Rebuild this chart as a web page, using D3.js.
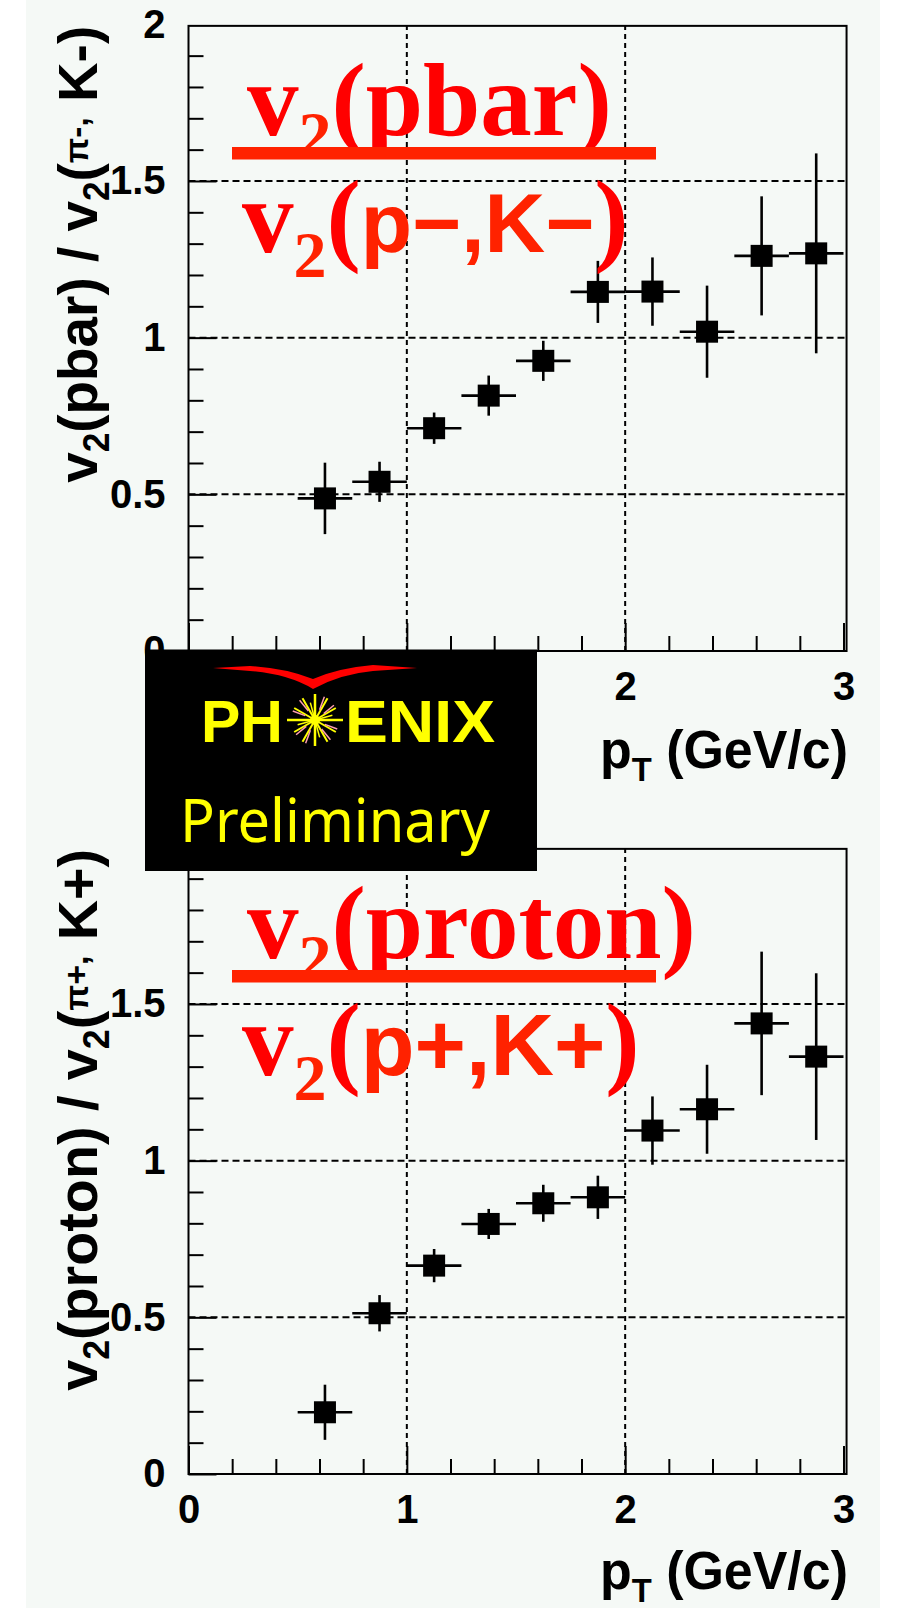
<!DOCTYPE html>
<html>
<head>
<meta charset="utf-8">
<script src="https://cdn.jsdelivr.net/npm/d3@7/dist/d3.min.js"></script>
<style>
  html, body { margin: 0; padding: 0; background: #fff; }
  svg { display: block; }
</style>
</head>
<body>
<svg id="fig" width="901" height="1608"></svg>
<script>
// pT bin centres and half-widths (GeV/c)
const ptCenters    = [0.625, 0.875, 1.125, 1.375, 1.625, 1.875, 2.125, 2.375, 2.625, 2.875];
const ptHalfWidths = [0.125, 0.125, 0.125, 0.125, 0.125, 0.125, 0.125, 0.125, 0.125, 0.125];

// v2(pbar) / v2(pi-,K-)
const ratioPbar    = [0.487, 0.540, 0.711, 0.815, 0.926, 1.146, 1.147, 1.019, 1.261, 1.269];
const ratioPbarErr = [0.114, 0.064, 0.050, 0.064, 0.064, 0.099, 0.109, 0.147, 0.190, 0.319];

// v2(proton) / v2(pi+,K+)
const ratioProton    = [0.197, 0.513, 0.665, 0.798, 0.864, 0.883, 1.096, 1.164, 1.438, 1.332];
const ratioProtonErr = [0.088, 0.058, 0.053, 0.048, 0.059, 0.069, 0.109, 0.142, 0.229, 0.266];

// axis ticks
const xMajorTicks = [0, 1, 2, 3];
const xTickLabels = ["0", "1", "2", "3"];
const xMinorTicks = [0.2, 0.4, 0.6, 0.8, 1.2, 1.4, 1.6, 1.8, 2.2, 2.4, 2.6, 2.8];
const yMajorTicks = [0, 0.5, 1, 1.5, 2];
const yTickLabels = ["0", "0.5", "1", "1.5", "2"];
const yMinorTicks = [0.1, 0.2, 0.3, 0.4, 0.6, 0.7, 0.8, 0.9, 1.1, 1.2, 1.3, 1.4, 1.6, 1.7, 1.8, 1.9];
const xGridValues = [1, 2];
const yGridValues = [0.5, 1, 1.5];

const SANS = "'Liberation Sans', Arial, Helvetica, sans-serif";
const SERIF = "'Liberation Serif', 'Times New Roman', Times, serif";

const svg = d3.select("#fig");
svg.append("rect").attr("width", 901).attr("height", 1608).attr("fill", "#ffffff");
svg.append("rect").attr("x", 26).attr("y", 0).attr("width", 854).attr("height", 1608).attr("fill", "#f5f9f6");

const x = d3.scaleLinear().domain([0, 3]).range([188.5, 843.5]);
const xFrameMax = 3.014, yFrameMax = 1.995;

// the badge sits between the two panels and hides a few tick labels
const badge = { x: 145, y: 649.5, w: 392, h: 221.5 };

const panels = [
  {
    top: 24.3, bottom: 651, values: ratioPbar, errors: ratioPbarErr,
    yTitle: [["v", 56, 0], ["2", 36, 12], ["(pbar) / v", 56, -12], ["2", 36, 12], ["(", 56, -12], ["\u03c0-,", 34, -9], [" K-)", 56, 9]],
    yTitleLen: 457, xTitleBase: 768,
    num: "(pbar)", den: "p\u2212,K\u2212", denSize: 84,
    hiddenX: [0, 1], hiddenY: []
  },
  {
    top: 847.3, bottom: 1474, values: ratioProton, errors: ratioProtonErr,
    yTitle: [["v", 56, 0], ["2", 36, 12], ["(proton) / v", 56, -12], ["2", 36, 12], ["(", 56, -12], ["\u03c0+,", 34, -9], [" K+)", 56, 9]],
    yTitleLen: 542, xTitleBase: 1589,
    num: "(proton)", den: "p+,K+", denSize: 88,
    hiddenX: [], hiddenY: [2]
  }
];

function styleAxisText(sel) {
  sel.attr("font-family", null).attr("font-size", null);
  sel.selectAll("text")
    .attr("font-family", SANS).attr("font-size", 40).attr("font-weight", "bold").attr("fill", "#000");
  sel.selectAll(".tick line").attr("stroke", "#000").attr("stroke-width", 2);
  sel.select(".domain").remove();
}

panels.forEach(p => {
  const y = d3.scaleLinear().domain([0, 2]).range([p.bottom, p.top]);
  const g = svg.append("g");

  // dashed grid
  g.selectAll("line.hgrid").data(yGridValues).join("line").attr("class", "hgrid")
    .attr("x1", x(0)).attr("x2", x(xFrameMax)).attr("y1", d => y(d)).attr("y2", d => y(d))
    .attr("stroke", "#000").attr("stroke-width", 2).attr("stroke-dasharray", "7,4");
  g.selectAll("line.vgrid").data(xGridValues).join("line").attr("class", "vgrid")
    .attr("x1", d => x(d)).attr("x2", d => x(d)).attr("y1", y(0)).attr("y2", y(yFrameMax))
    .attr("stroke", "#000").attr("stroke-width", 2).attr("stroke-dasharray", "5,4");

  // frame
  g.append("rect")
    .attr("x", x(0)).attr("y", y(yFrameMax))
    .attr("width", x(xFrameMax) - x(0)).attr("height", y(0) - y(yFrameMax))
    .attr("fill", "none").attr("stroke", "#000").attr("stroke-width", 2);

  // y axis: major ticks with labels, then minor ticks
  g.append("g").attr("transform", `translate(${x(0)},0)`)
    .call(d3.axisLeft(y).tickValues(yMajorTicks).tickFormat((d, i) => yTickLabels[i])
      .tickSize(-28).tickSizeOuter(0).tickPadding(23))
    .call(styleAxisText)
    .call(a => a.selectAll(".tick line").filter(d => d > yFrameMax).remove())
    .call(a => a.selectAll(".tick text").filter(d => p.hiddenY.includes(d)).remove());
  g.append("g").attr("transform", `translate(${x(0)},0)`)
    .call(d3.axisLeft(y).tickValues(yMinorTicks).tickFormat("").tickSize(-15).tickSizeOuter(0))
    .call(styleAxisText);

  // x axis
  g.append("g").attr("transform", `translate(0,${y(0)})`)
    .call(d3.axisBottom(x).tickValues(xMajorTicks).tickFormat((d, i) => xTickLabels[i])
      .tickSize(-28).tickSizeOuter(0).tickPadding(21))
    .call(styleAxisText)
    .call(a => a.selectAll(".tick text").filter(d => p.hiddenX.includes(d)).remove());
  g.append("g").attr("transform", `translate(0,${y(0)})`)
    .call(d3.axisBottom(x).tickValues(xMinorTicks).tickFormat("").tickSize(-15).tickSizeOuter(0))
    .call(styleAxisText);

  // data points with error bars
  const pts = ptCenters.map((c, i) => ({ c, hw: ptHalfWidths[i], v: p.values[i], e: p.errors[i] }));
  const mk = g.append("g");
  mk.selectAll("line.ex").data(pts).join("line").attr("class", "ex")
    .attr("x1", d => x(d.c - d.hw)).attr("x2", d => x(d.c + d.hw))
    .attr("y1", d => y(d.v)).attr("y2", d => y(d.v))
    .attr("stroke", "#000").attr("stroke-width", 2.6);
  mk.selectAll("line.ey").data(pts).join("line").attr("class", "ey")
    .attr("x1", d => x(d.c)).attr("x2", d => x(d.c))
    .attr("y1", d => y(d.v - d.e)).attr("y2", d => y(d.v + d.e))
    .attr("stroke", "#000").attr("stroke-width", 2.6);
  const ms = 22;
  mk.selectAll("rect.m").data(pts).join("rect").attr("class", "m")
    .attr("x", d => x(d.c) - ms / 2).attr("y", d => y(d.v) - ms / 2)
    .attr("width", ms).attr("height", ms).attr("fill", "#000");

  // y-axis title, right-aligned at the top of the axis
  const yt = g.append("text")
    .attr("transform", `translate(97,${y(yFrameMax)}) rotate(-90)`)
    .attr("text-anchor", "end")
    .attr("font-family", SANS).attr("font-weight", "bold").attr("fill", "#000")
    .attr("textLength", p.yTitleLen).attr("lengthAdjust", "spacingAndGlyphs");
  p.yTitle.forEach(([t, s, dy]) => yt.append("tspan").attr("font-size", s).attr("dy", dy).text(t));

  // x-axis title
  const xt = g.append("text")
    .attr("x", 600).attr("y", p.xTitleBase)
    .attr("font-family", SANS).attr("font-weight", "bold").attr("fill", "#000")
    .attr("textLength", 248).attr("lengthAdjust", "spacingAndGlyphs");
  xt.append("tspan").attr("font-size", 54).text("p");
  xt.append("tspan").attr("font-size", 34).attr("dy", 13).text("T");
  xt.append("tspan").attr("font-size", 54).attr("dy", -13).text(" (GeV/c)");

  // red ratio annotation
  const off = y(0) - 651;
  const numT = g.append("text").attr("x", 247).attr("y", 135 + off)
    .attr("font-family", SERIF).attr("font-weight", "bold").attr("font-size", 103).attr("fill", "#ff0000");
  numT.append("tspan").text("v");
  numT.append("tspan").attr("font-size", 66).attr("dy", 22).attr("fill", "#ff2200").text("2");
  numT.append("tspan").attr("dy", -22).text(p.num);

  g.append("rect").attr("x", 232).attr("y", 147 + off).attr("width", 424).attr("height", 12.5)
    .attr("fill", "#ff2200");

  const denT = g.append("text").attr("x", 242).attr("y", 252 + off)
    .attr("font-family", SERIF).attr("font-weight", "bold").attr("font-size", 103).attr("fill", "#ff0000");
  denT.append("tspan").text("v");
  denT.append("tspan").attr("font-size", 66).attr("dy", 25).attr("fill", "#ff2200").text("2");
  denT.append("tspan").attr("dy", -25).text("(");
  denT.append("tspan").attr("font-family", SANS).attr("font-size", p.denSize).attr("fill", "#ff2200").text(p.den);
  denT.append("tspan").text(")");
});

// PHENIX Preliminary badge
const logo = svg.append("g");
logo.append("rect").attr("x", badge.x).attr("y", badge.y).attr("width", badge.w).attr("height", badge.h).attr("fill", "#000");
logo.append("path")
  .attr("d", "M213,668 L250,666 Q285,668 313,679 Q338,668 373,665 L417,668 L373,671 Q340,674 313,689 Q288,674 250,671 Z")
  .attr("fill", "#ff0000");
logo.append("text").attr("x", 201).attr("y", 742)
  .attr("font-family", SANS).attr("font-weight", "bold").attr("font-size", 60).attr("fill", "#ffff00")
  .attr("textLength", 82).attr("lengthAdjust", "spacingAndGlyphs").text("PH");
logo.append("text").attr("x", 345).attr("y", 742)
  .attr("font-family", SANS).attr("font-weight", "bold").attr("font-size", 60).attr("fill", "#ffff00")
  .attr("textLength", 150).attr("lengthAdjust", "spacingAndGlyphs").text("ENIX");
// starburst
const cx = 315, cy = 720;
const rays = [
  [0, 28, 2.5], [90, 26, 2.5], [180, 28, 2.5], [270, 26, 2.5],
  [30, 24, 2], [60, 25, 2], [120, 25, 2], [150, 24, 2],
  [210, 24, 2], [240, 25, 2], [300, 25, 2], [330, 24, 2],
  [15, 18, 1.5], [105, 18, 1.5], [195, 18, 1.5], [285, 18, 1.5]
];
logo.selectAll("line.ray").data(rays).join("line").attr("class", "ray")
  .attr("x1", cx).attr("y1", cy)
  .attr("x2", d => cx + d[1] * Math.cos(d[0] * Math.PI / 180))
  .attr("y2", d => cy - d[1] * Math.sin(d[0] * Math.PI / 180))
  .attr("stroke", "#ffff00").attr("stroke-width", d => d[2]);
logo.selectAll("line.rayp").data(rays.filter((d, i) => i >= 4 && i < 12)).join("line").attr("class", "rayp")
  .attr("x1", d => cx + d[1] * 0.45 * Math.cos((d[0] + 6) * Math.PI / 180))
  .attr("y1", d => cy - d[1] * 0.45 * Math.sin((d[0] + 6) * Math.PI / 180))
  .attr("x2", d => cx + d[1] * Math.cos((d[0] + 8) * Math.PI / 180))
  .attr("y2", d => cy - d[1] * Math.sin((d[0] + 8) * Math.PI / 180))
  .attr("stroke", "#ff9fb0").attr("stroke-width", 1.5);
logo.append("circle").attr("cx", cx).attr("cy", cy).attr("r", 5).attr("fill", "#ffff00");
logo.append("text").attr("x", 180).attr("y", 842)
  .attr("font-family", "'Comic Sans MS', 'Noto Sans', 'DejaVu Sans', sans-serif")
  .attr("font-size", 60).attr("fill", "#ffff00")
  .attr("textLength", 310).attr("lengthAdjust", "spacingAndGlyphs").text("Preliminary");
</script>
</body>
</html>
